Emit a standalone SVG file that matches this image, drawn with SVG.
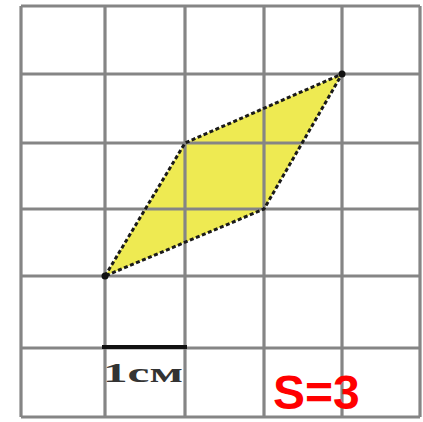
<svg xmlns="http://www.w3.org/2000/svg" width="423" height="422" viewBox="0 0 423 422">
<style>
.grid line{stroke:#858585;stroke-width:3.2}
.fill{fill:#eeea52;stroke:none}
.edge{fill:none;stroke:#1a1a1a;stroke-width:3;stroke-dasharray:4 2.5;stroke-linejoin:round}
.lbl{font-family:"Liberation Serif",serif;fill:#333}
.s{font-family:"Liberation Sans",Arial,sans-serif;font-weight:bold;fill:#ff0000}
</style>
<rect width="423" height="422" fill="#ffffff"/>
<polygon class="fill" points="105,276 185,143 342,74 264,209"/>
<g id="grid" class="grid">
<line x1="21" y1="6" x2="21" y2="417"/>
<line x1="105" y1="6" x2="105" y2="417"/>
<line x1="185" y1="6" x2="185" y2="417"/>
<line x1="264" y1="6" x2="264" y2="417"/>
<line x1="342" y1="6" x2="342" y2="417"/>
<line x1="420" y1="6" x2="420" y2="417"/>
<line x1="21" y1="6" x2="420" y2="6"/>
<line x1="21" y1="74" x2="420" y2="74"/>
<line x1="21" y1="143" x2="420" y2="143"/>
<line x1="21" y1="209" x2="420" y2="209"/>
<line x1="21" y1="276" x2="420" y2="276"/>
<line x1="21" y1="348" x2="420" y2="348"/>
<line x1="21" y1="417" x2="420" y2="417"/>
</g>
<g id="parallelogram">
<polygon class="edge" points="105,276 185,143 342,74 264,209"/>
<circle cx="342" cy="74" r="3.5" fill="#111"/>
<circle cx="105" cy="276" r="3.5" fill="#111"/>
</g>
<g id="scale">
<line x1="102" y1="347" x2="187" y2="347" stroke="#111" stroke-width="4"/>
<text class="lbl" x="103" y="382" font-size="28" font-weight="bold" textLength="80" lengthAdjust="spacingAndGlyphs">1см</text>
</g>
<g id="area">
<text class="s" x="273" y="409" font-size="48">S=3</text>
</g>
</svg>
